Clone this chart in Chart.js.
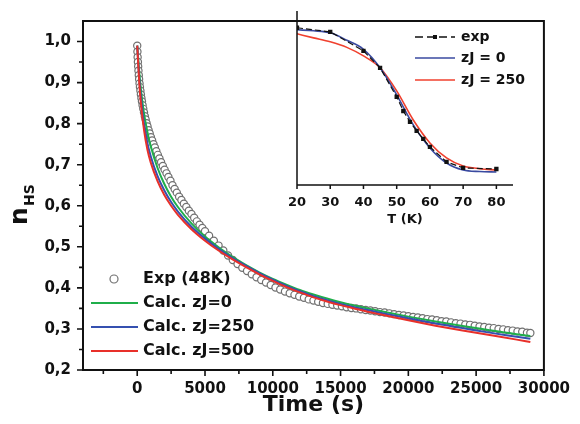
<!DOCTYPE html>
<html>
<head>
<meta charset="utf-8">
<script src="https://cdn.jsdelivr.net/npm/chart.js@4"></script>
<style>
body { margin: 0; background: #fff; }
#wrap { position: relative; width: 580px; height: 424px; }
#main { position: absolute; left: 0; top: 0; }
#inset { position: absolute; left: 250px; top: 0; }
</style>
</head>
<body>
<div id="wrap">
<canvas id="main" width="580" height="424"></canvas>
<canvas id="inset" width="330" height="232"></canvas>
</div>
<script>
// Relaxation at 48K: measured points
const expTime = [0,15,30,50,70,90,115,140,170,200,235,270,310,350,395,445,500,560,620,690,
	760,840,920,1010,1100,1200,1300,1410,1520,1640,1760,1890,2020,2160,2300,2450,2600,2760,2920,3090,
	3260,3440,3620,3810,4000,4200,4400,4600,4800,5000,5300,5650,6000,6350,6700,7050,7400,7750,8100,8450,
	8800,9150,9500,9850,10200,10550,10900,11250,11600,11950,12300,12650,13000,13350,13700,14050,14400,14750,15100,15450,
	15800,16150,16500,16850,17200,17550,17900,18250,18600,18950,19300,19650,20000,20350,20700,21050,21400,21750,22100,22450,
	22800,23150,23500,23850,24200,24550,24900,25250,25600,25950,26300,26650,27000,27350,27700,28050,28400,28750,29000];
const expN = [0.99,0.975,0.962,0.95,0.939,0.929,0.918,0.908,0.898,0.889,0.88,0.871,0.862,0.854,0.845,0.836,0.827,0.818,0.81,0.801,
	0.793,0.784,0.776,0.767,0.759,0.75,0.742,0.733,0.724,0.715,0.706,0.697,0.688,0.679,0.67,0.661,0.65,0.641,0.632,0.622,
	0.614,0.605,0.597,0.588,0.58,0.571,0.562,0.554,0.546,0.538,0.527,0.515,0.503,0.491,0.479,0.468,0.458,0.449,0.441,0.433,
	0.426,0.419,0.413,0.407,0.401,0.396,0.391,0.387,0.383,0.379,0.376,0.372,0.369,0.366,0.363,0.361,0.359,0.357,0.355,0.353,
	0.351,0.35,0.348,0.346,0.345,0.343,0.341,0.34,0.338,0.336,0.334,0.333,0.331,0.329,0.328,0.326,0.324,0.323,0.321,0.319,
	0.318,0.316,0.314,0.313,0.311,0.31,0.308,0.306,0.305,0.303,0.302,0.30,0.299,0.297,0.296,0.294,0.293,0.291,0.29];

// Calculated curves
const calcTime = [0,150,300,500,750,1000,1500,2000,2500,3000,4000,5000,6000,7000,8000,9000,10000,11000,12000,13000,
	14000,15000,16000,17000,18000,20000,22000,24000,26000,28000,29000];
const calcZJ0 = [0.99,0.925,0.875,0.825,0.78,0.745,0.692,0.653,0.622,0.597,0.557,0.525,0.499,0.476,0.456,0.438,0.422,0.408,0.395,0.384,
	0.374,0.365,0.357,0.35,0.343,0.33,0.318,0.307,0.297,0.287,0.283];
const calcZJ250 = [0.99,0.91,0.855,0.80,0.753,0.72,0.672,0.637,0.609,0.586,0.549,0.52,0.495,0.473,0.454,0.436,0.42,0.405,0.392,0.38,
	0.37,0.361,0.353,0.346,0.339,0.326,0.313,0.302,0.291,0.281,0.276];
const calcZJ500 = [0.99,0.90,0.84,0.785,0.737,0.705,0.66,0.626,0.60,0.578,0.543,0.515,0.491,0.47,0.451,0.433,0.417,0.402,0.389,0.377,
	0.367,0.358,0.35,0.342,0.335,0.321,0.308,0.296,0.285,0.274,0.268];

const xTicks = [0,5000,10000,15000,20000,25000,30000];
const xMinor = [-2500,2500,7500,12500,17500,22500,27500];
const yTicks = [0.2,0.3,0.4,0.5,0.6,0.7,0.8,0.9,1.0];
const yMinor = [0.25,0.35,0.45,0.55,0.65,0.75,0.85,0.95];

// Inset: thermal transition
const insetExpT = [20,30,40,45,50,52,54,56,58,60,65,70,80];
const insetExpN = [0.994,0.968,0.848,0.741,0.557,0.468,0.399,0.342,0.291,0.241,0.146,0.108,0.101];
const insetCalcT = [20,25,30,35,40,45,50,55,60,65,70,75,80];
const insetZJ0 = [0.981,0.975,0.962,0.915,0.858,0.741,0.57,0.38,0.234,0.139,0.095,0.085,0.082];
const insetZJ250 = [0.956,0.93,0.905,0.87,0.816,0.741,0.595,0.411,0.266,0.171,0.12,0.103,0.095];
const insetTicks = [20,30,40,50,60,70,80];

const FONT = 'DejaVu Sans';
const pts = (xs, ys) => xs.map((x, i) => ({ x, y: ys[i] }));

const mainFrame = {
	id: 'mainFrame',
	afterDraw(chart) {
		const { ctx, chartArea: a, scales: { x, y } } = chart;
		ctx.save();
		ctx.strokeStyle = '#111';
		ctx.lineWidth = 2;
		ctx.strokeRect(a.left, a.top, a.right - a.left, a.bottom - a.top);
		ctx.lineWidth = 1.6;
		ctx.beginPath();
		xTicks.forEach(v => { const p = x.getPixelForValue(v); ctx.moveTo(p, a.bottom); ctx.lineTo(p, a.bottom + 6); });
		xMinor.forEach(v => { const p = x.getPixelForValue(v); ctx.moveTo(p, a.bottom); ctx.lineTo(p, a.bottom + 4); });
		yTicks.forEach(v => { const p = y.getPixelForValue(v); ctx.moveTo(a.left, p); ctx.lineTo(a.left - 6, p); });
		yMinor.forEach(v => { const p = y.getPixelForValue(v); ctx.moveTo(a.left, p); ctx.lineTo(a.left - 4, p); });
		ctx.stroke();

		// legend
		const ds = chart.data.datasets;
		ctx.font = 'bold 16px ' + FONT;
		ctx.textBaseline = 'middle';
		const rows = [279, 303, 327, 351];
		ctx.beginPath();
		ctx.arc(114, rows[0], 4, 0, Math.PI * 2);
		ctx.fillStyle = '#fff'; ctx.fill();
		ctx.strokeStyle = ds[0].borderColor; ctx.lineWidth = 1.2; ctx.stroke();
		ctx.fillStyle = '#111';
		ctx.fillText(ds[0].label, 143, rows[0]);
		for (let i = 1; i < 4; i++) {
			ctx.strokeStyle = ds[i].borderColor;
			ctx.lineWidth = 2.2;
			ctx.beginPath(); ctx.moveTo(91, rows[i]); ctx.lineTo(138, rows[i]); ctx.stroke();
			ctx.fillText(ds[i].label, 143, rows[i]);
		}

		// y title n_HS
		ctx.translate(27, 225);
		ctx.rotate(-Math.PI / 2);
		ctx.textBaseline = 'alphabetic';
		ctx.font = 'bold 25px ' + FONT;
		ctx.fillText('n', 0, 0);
		ctx.font = 'bold 14px ' + FONT;
		ctx.fillText('HS', 19, 7);
		ctx.restore();
	}
};

new Chart(document.getElementById('main'), {
	type: 'scatter',
	data: {
		datasets: [
			{ label: 'Exp (48K)', data: pts(expTime, expN), borderColor: '#707070', backgroundColor: '#ffffff', pointRadius: 3.6, borderWidth: 1.2, showLine: false, order: 4 },
			{ label: 'Calc. zJ=0', data: pts(calcTime, calcZJ0), borderColor: '#1fae4a', showLine: true, pointRadius: 0, borderWidth: 2, cubicInterpolationMode: 'monotone', order: 3 },
			{ label: 'Calc. zJ=250', data: pts(calcTime, calcZJ250), borderColor: '#3550b0', showLine: true, pointRadius: 0, borderWidth: 2, cubicInterpolationMode: 'monotone', order: 2 },
			{ label: 'Calc. zJ=500', data: pts(calcTime, calcZJ500), borderColor: '#e8302a', showLine: true, pointRadius: 0, borderWidth: 2, cubicInterpolationMode: 'monotone', order: 1 }
		]
	},
	options: {
		responsive: false, animation: false, devicePixelRatio: 1,
		layout: { padding: { top: 11, right: 30, left: 0, bottom: 0 } },
		plugins: { legend: { display: false }, tooltip: { enabled: false } },
		scales: {
			x: {
				type: 'linear', min: -4000, max: 30000,
				afterBuildTicks: s => { s.ticks = xTicks.map(v => ({ value: v })); },
				afterFit: s => { s.height = 54; },
				grid: { display: false, drawTicks: false }, border: { display: false },
				ticks: { color: '#111', font: { family: FONT, size: 15, weight: 'bold' }, padding: 10, maxRotation: 0, autoSkip: false, callback: v => String(v) },
				title: { display: true, text: 'Time (s)', color: '#111', font: { family: FONT, size: 22, weight: 'bold' }, padding: { top: 0, bottom: 6 } }
			},
			y: {
				min: 0.2, max: 1.05,
				afterBuildTicks: s => { s.ticks = yTicks.map(v => ({ value: v })); },
				afterFit: s => { s.width = 83; },
				grid: { display: false, drawTicks: false }, border: { display: false },
				ticks: { color: '#111', font: { family: FONT, size: 15, weight: 'bold' }, padding: 12, callback: v => v.toFixed(1).replace('.', ',') }
			}
		}
	},
	plugins: [mainFrame]
});

const insetFrame = {
	id: 'insetFrame',
	afterDraw(chart) {
		const { ctx, chartArea: a, scales: { x } } = chart;
		ctx.save();
		ctx.strokeStyle = '#111';
		ctx.lineWidth = 1.5;
		ctx.beginPath();
		ctx.moveTo(a.left, a.top); ctx.lineTo(a.left, a.bottom); ctx.lineTo(a.right, a.bottom);
		insetTicks.forEach(v => { const p = x.getPixelForValue(v); ctx.moveTo(p, a.bottom); ctx.lineTo(p, a.bottom + 4); });
		ctx.stroke();

		// legend
		const ds = chart.data.datasets;
		ctx.font = 'bold 14px ' + FONT;
		ctx.textBaseline = 'middle';
		ctx.fillStyle = '#111';
		const rows = [37, 58, 80];
		ctx.lineWidth = 1.3;
		ctx.setLineDash([8, 4]);
		ctx.beginPath(); ctx.moveTo(165, rows[0]); ctx.lineTo(205, rows[0]); ctx.stroke();
		ctx.setLineDash([]);
		ctx.fillRect(183, rows[0] - 2, 4, 4);
		ctx.fillText(ds[0].label, 211, rows[0]);
		for (let i = 1; i < 3; i++) {
			ctx.strokeStyle = ds[i].borderColor;
			ctx.lineWidth = 1.6;
			ctx.beginPath(); ctx.moveTo(165, rows[i]); ctx.lineTo(205, rows[i]); ctx.stroke();
			ctx.fillText(ds[i].label, 211, rows[i]);
		}
		ctx.restore();
	}
};

new Chart(document.getElementById('inset'), {
	type: 'scatter',
	data: {
		datasets: [
			{ label: 'exp', data: pts(insetExpT, insetExpN), borderColor: '#111', backgroundColor: '#111', showLine: true, borderDash: [6, 3], borderWidth: 1.2, pointStyle: 'rect', pointRadius: 2.2, order: 1 },
			{ label: 'zJ = 0', data: pts(insetCalcT, insetZJ0), borderColor: '#3a4aa0', showLine: true, pointRadius: 0, borderWidth: 1.6, cubicInterpolationMode: 'monotone', order: 2 },
			{ label: 'zJ = 250', data: pts(insetCalcT, insetZJ250), borderColor: '#f0402e', showLine: true, pointRadius: 0, borderWidth: 1.6, cubicInterpolationMode: 'monotone', order: 3 }
		]
	},
	options: {
		responsive: false, animation: false, devicePixelRatio: 1,
		layout: { padding: { top: 11, right: 67, left: 47, bottom: 0 } },
		plugins: { legend: { display: false }, tooltip: { enabled: false } },
		scales: {
			x: {
				type: 'linear', min: 20, max: 85,
				afterBuildTicks: s => { s.ticks = insetTicks.map(v => ({ value: v })); },
				afterFit: s => { s.height = 47; },
				grid: { display: false, drawTicks: false }, border: { display: false },
				ticks: { color: '#111', font: { family: FONT, size: 13, weight: 'bold' }, padding: 10, maxRotation: 0, autoSkip: false },
				title: { display: true, text: 'T (K)', color: '#111', font: { family: FONT, size: 13, weight: 'bold' }, padding: { top: 0, bottom: 5 } }
			},
			y: { display: false, min: 0, max: 1.1 }
		}
	},
	plugins: [insetFrame]
});
</script>
</body>
</html>
